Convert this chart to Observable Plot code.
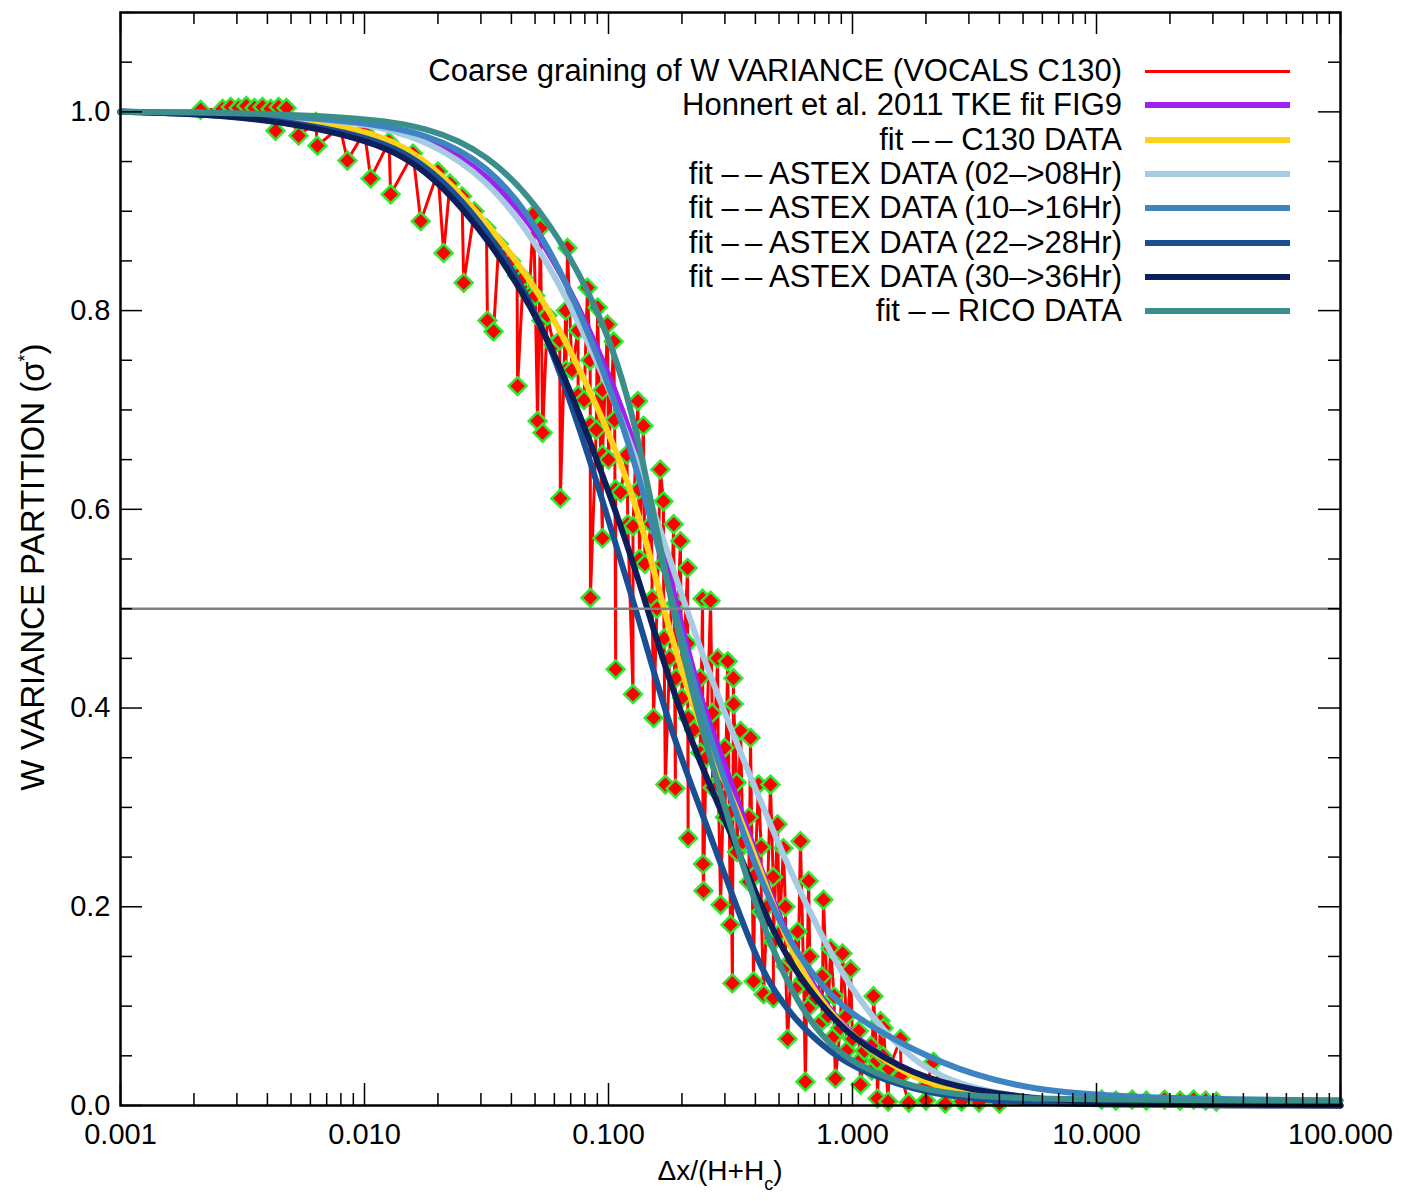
<!DOCTYPE html>
<html><head><meta charset="utf-8">
<script src="https://cdn.jsdelivr.net/npm/d3@7"></script>
<script src="https://cdn.jsdelivr.net/npm/@observablehq/plot@0.6"></script>
<style>
body{margin:0;background:#fff;font-family:"Liberation Sans",Arial,sans-serif}
#wrap{position:relative;width:1401px;height:1201px;overflow:hidden}
.lt{position:absolute;right:279px;height:34px;line-height:34px;font-size:31px;white-space:nowrap;color:#000}
.ll{position:absolute;left:1145px;width:145px}
</style></head><body><div id="wrap"></div><script>
// ---- fit curves ----
const curveX = [0.001,0.00316,0.01,0.0178,0.0316,0.0562,0.1,0.133,0.178,0.237,0.316,0.422,0.562,0.750,1,1.78,3.16,5.62,10,31.6,100];
const honnert   = [1.0,0.999,0.99,0.975,0.94,0.87,0.74,0.655,0.535,0.405,0.33,0.235,0.16,0.105,0.068,0.03,0.012,0.004,0.001,0,0];
const c130      = [1.0,0.998,0.985,0.955,0.89,0.81,0.68,0.60,0.475,0.38,0.315,0.235,0.152,0.103,0.068,0.025,0.01,0.004,0.002,0,0];
const astex0208 = [1.0,0.999,0.99,0.972,0.935,0.855,0.725,0.645,0.55,0.46,0.38,0.305,0.233,0.17,0.113,0.039,0.016,0.006,0.002,0,0];
const astex1016 = [1.0,0.999,0.99,0.978,0.95,0.875,0.73,0.635,0.52,0.40,0.31,0.225,0.16,0.12,0.09,0.055,0.03,0.016,0.01,0.006,0.005];
const astex2228 = [1.0,0.997,0.978,0.95,0.885,0.785,0.59,0.49,0.38,0.30,0.217,0.134,0.09,0.06,0.038,0.015,0.006,0.003,0.001,0,0];
const astex3036 = [1.0,0.997,0.975,0.945,0.876,0.781,0.62,0.53,0.425,0.345,0.275,0.2,0.14,0.1,0.067,0.03,0.015,0.007,0.003,0.001,0];
const rico      = [1.0,0.999,0.994,0.985,0.96,0.897,0.783,0.675,0.51,0.385,0.28,0.185,0.113,0.068,0.042,0.017,0.009,0.007,0.006,0.005,0.005];

// ---- coarse graining data (VOCALS C130) ----
const dataX = [
 0.00213,0.00262,0.00283,0.00305,0.00328,0.00354,0.00382,0.00412,0.00445,0.00479,
 0.00432,0.00537,0.00641,0.00851,0.0106,0.0128,0.0170,0.0211,0.0255,0.0319,0.0338,0.0424,0.0512,0.0537,0.0635,0.0843,0.0944,
 0.107,0.126,0.132,0.139,0.153,0.163,0.168,0.171,0.185,0.188,0.197,0.211,0.212,0.243,0.244,0.245,0.262,0.280,0.288,0.308,0.316,0.322,0.325,0.326,0.348,0.382,0.393,0.412,0.432,0.461,0.474,0.493,0.521,0.542,0.612,0.641,0.661,0.760,0.813,0.851,0.910,0.982,1.079,1.219,1.265,1.303,1.340,1.574,2.148,
 0.0493,0.0526,0.0679,0.0820,0.0902,0.0991,0.105,
 1.4,1.7,2.0,2.4,2.8,3.3,4.0,10.5,12,14,16,19,22,25,28,31,
 0.00631,0.00794,0.0100,0.0126,0.0158,0.0200,0.0224,0.0251,0.0282,0.0316,0.0355,0.0398,0.0447,0.0501,0.0562,0.0631,0.0708,0.0794,0.0891,0.100,0.112,0.126,0.141,0.158,0.178,0.200,0.224,0.251,0.282,0.316,0.355,0.398,0.447,0.501,0.562,0.631,0.708,0.794,0.891,1.00,1.12,1.26,1.41,1.58,2.00,
 0.0668,0.0750,0.0841,0.0944,0.106,0.119,0.133,0.150,0.168,0.188,0.211,0.237,0.266,0.299,0.335,0.376,0.422,0.473,0.531,0.596,0.668,0.750,0.841,0.944,1.06,1.19,1.33,
 0.0376,0.0422,0.0473,0.0531,0.0596,0.0669,0.0751,0.0842,0.0945,0.107,0.120,0.134,0.151,0.169,0.189,0.212,0.238,0.267,0.300,0.336,0.377,0.423,0.474,0.532,0.597,0.669,0.751,0.842,0.945,1.07,1.20
];
const dataY = [
 1.002,1.003,1.005,1.004,1.006,1.004,1.005,1.003,1.005,1.004,
 0.981,0.976,0.966,0.951,0.933,0.917,0.890,0.858,0.828,0.790,0.779,0.724,0.689,0.677,0.611,0.511,0.571,
 0.439,0.414,0.709,0.684,0.390,0.640,0.608,0.323,0.585,0.319,0.568,0.541,0.269,0.510,0.243,0.216,0.508,0.450,0.202,0.447,0.182,0.123,0.430,0.404,0.377,0.370,0.125,0.323,0.112,0.323,0.108,0.283,0.259,0.067,0.266,0.024,0.226,0.207,0.158,0.027,0.153,0.137,0.021,0.110,0.007,0.085,0.078,0.067,0.044,
 0.897,0.883,0.863,0.823,0.803,0.786,0.769,
 0.004,0.003,0.005,0.002,0.004,0.003,0.002,0.006,0.005,0.006,0.005,0.006,0.005,0.006,0.005,0.004,
 0.99,0.985,0.98,0.97,0.958,0.94,0.928,0.915,0.90,0.883,0.867,0.85,0.833,0.815,0.795,0.77,0.74,0.71,0.68,0.65,0.617,0.583,0.545,0.50,0.45,0.41,0.378,0.35,0.322,0.295,0.265,0.232,0.20,0.173,0.146,0.127,0.108,0.09,0.078,0.067,0.055,0.045,0.037,0.03,0.02,
 0.80,0.78,0.75,0.72,0.69,0.655,0.62,0.585,0.545,0.505,0.465,0.43,0.395,0.36,0.325,0.29,0.26,0.23,0.20,0.175,0.15,0.13,0.11,0.09,0.075,0.06,0.05,
 0.855,0.835,0.815,0.79,0.765,0.74,0.715,0.685,0.655,0.62,0.585,0.55,0.51,0.47,0.43,0.39,0.355,0.32,0.29,0.255,0.225,0.195,0.165,0.14,0.12,0.10,0.085,0.07,0.055,0.045,0.035
];

// ---- legend / axes text ----
const seriesNames = ["Coarse graining of W VARIANCE (VOCALS C130)","Honnert et al. 2011 TKE fit FIG9","fit –\u2009– C130 DATA","fit –\u2009– ASTEX DATA (02–>08Hr)","fit –\u2009– ASTEX DATA (10–>16Hr)","fit –\u2009– ASTEX DATA (22–>28Hr)","fit –\u2009– ASTEX DATA (30–>36Hr)","fit –\u2009– RICO DATA"];
const seriesColors = ["#ff0000","#a020f0","#ffd21a","#a6cbe3","#3d84c0","#1a4f94","#0d1f5a","#3a8f8c"];
const fitSeries = [honnert,c130,astex0208,astex1016,astex2228,astex3036,rico];
const xMajor = [0.001,0.01,0.1,1,10,100];
const yMajor = [0,0.2,0.4,0.6,0.8,1.0];
const xMinor = xMajor.slice(0,-1).flatMap(d => [2,3,4,5,6,7,8,9].map(k => k*d));
const yMinor = d3.range(0,23).map(i => +(i*0.05).toFixed(2)).filter(v => !yMajor.includes(v));

const W=1401,H=1201,mL=120,mR=61,mT=12,mB=96;
const pw=W-mL-mR, ph=H-mT-mB;

const pts = dataX.map((x,i)=>({x, y:dataY[i]})).sort((a,b)=>a.x-b.x);

const marks = [
  Plot.line(pts,{x:"x",y:"y",stroke:"#ff0000",strokeWidth:3}),
  Plot.dot(pts,{x:"x",y:"y",symbol:"diamond2",r:8,fill:"#ff0000",stroke:"#2ee82e",strokeWidth:2.5}),
];
fitSeries.forEach((arr,k)=>{
  marks.push(Plot.line(arr.map((y,i)=>({x:curveX[i],y})),{x:"x",y:"y",stroke:seriesColors[k+1],strokeWidth:6,curve:"basis"}));
});
marks.push(
  Plot.ruleY([0.5],{stroke:"#808080",strokeWidth:2.5}),
  // inward ticks (IDL style)
  Plot.ruleX(xMajor,{stroke:"black",strokeWidth:1.5,insetTop:ph-22}),
  Plot.ruleX(xMajor,{stroke:"black",strokeWidth:1.5,insetBottom:ph-22}),
  Plot.ruleX(xMinor,{stroke:"black",strokeWidth:1.5,insetTop:ph-12}),
  Plot.ruleX(xMinor,{stroke:"black",strokeWidth:1.5,insetBottom:ph-12}),
  Plot.ruleY(yMajor,{stroke:"black",strokeWidth:1.5,insetRight:pw-22}),
  Plot.ruleY(yMajor,{stroke:"black",strokeWidth:1.5,insetLeft:pw-22}),
  Plot.ruleY(yMinor,{stroke:"black",strokeWidth:1.5,insetRight:pw-12}),
  Plot.ruleY(yMinor,{stroke:"black",strokeWidth:1.5,insetLeft:pw-12}),
  Plot.frame({stroke:"black",strokeWidth:2.5}),
  Plot.axisX({ticks:xMajor,tickSize:0,tickPadding:18,tickFormat:d3.format(".3f"),label:null,fontSize:29}),
  Plot.axisY({ticks:yMajor,tickSize:0,tickPadding:10,tickFormat:d3.format(".1f"),label:null,fontSize:29})
);

const chart = Plot.plot({
  width:W,height:H,marginLeft:mL,marginRight:mR,marginTop:mT,marginBottom:mB,
  x:{type:"log",domain:[0.001,100]},
  y:{domain:[0,1.1]},
  style:{fontFamily:"'Liberation Sans',Arial,sans-serif",color:"black",background:"white",overflow:"visible"},
  marks
});
const wrap = document.getElementById("wrap");
wrap.appendChild(chart);

const svg = d3.select(chart);
// x axis title
const xt = svg.append("text").attr("x",720).attr("y",1180).attr("text-anchor","middle")
  .attr("font-size",28).attr("font-family","'Liberation Sans',Arial,sans-serif").attr("fill","black");
xt.append("tspan").text("Δx/(H+H");
xt.append("tspan").attr("font-size",18).attr("dy",10).text("c");
xt.append("tspan").attr("dy",-10).text(")");
// y axis title
const yt = svg.append("text").attr("transform","translate(44,567) rotate(-90)").attr("text-anchor","middle")
  .attr("font-size",33).attr("font-family","'Liberation Sans',Arial,sans-serif").attr("fill","black");
yt.append("tspan").text("W VARIANCE PARTITION (σ");
yt.append("tspan").attr("font-size",18).attr("dy",-13).text("*");
yt.append("tspan").attr("dy",13).text(")");

// legend (HTML overlay)
seriesNames.forEach((name,i)=>{
  const cy = 71 + i*34.3;
  const t = document.createElement("div");
  t.className="lt"; t.style.top=(cy-17)+"px"; t.textContent=name;
  wrap.appendChild(t);
  const l = document.createElement("div");
  const th = i===0 ? 3 : 6;
  l.className="ll"; l.style.top=(cy-th/2)+"px"; l.style.height=th+"px"; l.style.background=seriesColors[i];
  wrap.appendChild(l);
});
</script></body></html>
